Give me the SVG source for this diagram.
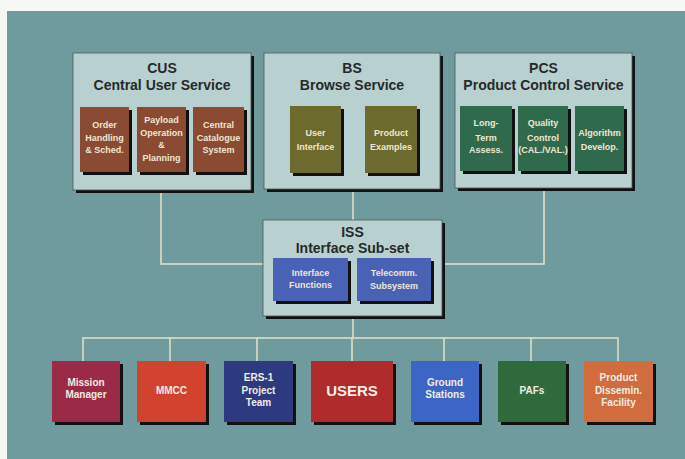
<svg xmlns="http://www.w3.org/2000/svg" width="685" height="459" viewBox="0 0 685 459">
<defs>
<style>
.bg{fill:#709b9e}
.grp{fill:#b8d0cf;stroke:#4a5a5a;stroke-width:0.8}
.sh{fill:#111}
.ttl{font-family:"Liberation Sans",Arial,sans-serif;font-weight:bold;font-size:14px;fill:#262a2a;text-anchor:middle}
.lbl{font-family:"Liberation Sans",Arial,sans-serif;font-weight:bold;font-size:9px;fill:#efe6d4;text-anchor:middle}
.blbl{font-family:"Liberation Sans",Arial,sans-serif;font-weight:bold;font-size:10px;fill:#f2ece2;text-anchor:middle}
.big{font-family:"Liberation Sans",Arial,sans-serif;font-weight:bold;font-size:15px;fill:#f4eee6;text-anchor:middle}
.con{fill:none;stroke:#e6e2c8;stroke-width:1.5}
.brown{fill:#8b4a32}
.olive{fill:#6c6a2c}
.green{fill:#2f6a4c}
.blue{fill:#4a62b6}
</style>
</defs>
<rect width="685" height="459" fill="#f5f7f2"/>
<rect class="bg" x="7" y="11" width="678" height="448"/>

<g id="connectors">
<path class="con" d="M161,192 V264 H263"/>
<path class="con" d="M544,190 V264 H442"/>
<path class="con" d="M353,191 V220"/>
<path class="con" d="M353,318 V338"/>
<path class="con" d="M83,361 V338 H618 V361"/>
<path class="con" d="M170,338 V361 M257,338 V361 M352,338 V361 M444,338 V361 M531,338 V361"/>
</g>

<g id="cus">
<rect class="sh" x="76" y="56" width="178" height="137"/>
<rect class="grp" x="73" y="53" width="178" height="137"/>
<text class="ttl" x="162" y="73">CUS</text>
<text class="ttl" x="162" y="90">Central User Service</text>
<g id="cus-order">
<rect class="sh" x="83" y="110" width="49" height="65"/>
<rect class="brown" x="80" y="107" width="49" height="65"/>
<text class="lbl" x="104.5" y="128">Order</text>
<text class="lbl" x="104.5" y="141">Handling</text>
<text class="lbl" x="104.5" y="153">&amp; Sched.</text>
</g>
<g id="cus-payload">
<rect class="sh" x="140" y="110" width="49" height="65"/>
<rect class="brown" x="137" y="107" width="49" height="65"/>
<text class="lbl" x="161.5" y="123">Payload</text>
<text class="lbl" x="161.5" y="136">Operation</text>
<text class="lbl" x="161.5" y="148">&amp;</text>
<text class="lbl" x="161.5" y="161">Planning</text>
</g>
<g id="cus-catalogue">
<rect class="sh" x="196" y="110" width="51" height="65"/>
<rect class="brown" x="193" y="107" width="51" height="65"/>
<text class="lbl" x="218.5" y="128">Central</text>
<text class="lbl" x="218.5" y="141">Catalogue</text>
<text class="lbl" x="218.5" y="153">System</text>
</g>
</g>

<g id="bs">
<rect class="sh" x="267" y="56" width="176" height="136"/>
<rect class="grp" x="264" y="53" width="176" height="136"/>
<text class="ttl" x="352" y="73">BS</text>
<text class="ttl" x="352" y="90">Browse Service</text>
<g id="bs-ui">
<rect class="sh" x="293" y="109" width="51" height="67"/>
<rect class="olive" x="290" y="106" width="51" height="67"/>
<text class="lbl" x="315.5" y="136">User</text>
<text class="lbl" x="315.5" y="150">Interface</text>
</g>
<g id="bs-examples">
<rect class="sh" x="368" y="109" width="52" height="67"/>
<rect class="olive" x="365" y="106" width="52" height="67"/>
<text class="lbl" x="391" y="136">Product</text>
<text class="lbl" x="391" y="150">Examples</text>
</g>
</g>

<g id="pcs">
<rect class="sh" x="458" y="56" width="177" height="135"/>
<rect class="grp" x="455" y="53" width="177" height="135"/>
<text class="ttl" x="543.5" y="73">PCS</text>
<text class="ttl" x="543.5" y="90">Product Control Service</text>
<g id="pcs-lta">
<rect class="sh" x="463" y="109" width="52" height="65"/>
<rect class="green" x="460" y="106" width="52" height="65"/>
<text class="lbl" x="486" y="126">Long-</text>
<text class="lbl" x="486" y="141">Term</text>
<text class="lbl" x="486" y="153">Assess.</text>
</g>
<g id="pcs-qc">
<rect class="sh" x="521" y="109" width="50" height="65"/>
<rect class="green" x="518" y="106" width="50" height="65"/>
<text class="lbl" x="543" y="126">Quality</text>
<text class="lbl" x="543" y="141">Control</text>
<text class="lbl" x="543" y="153">(CAL./VAL.)</text>
</g>
<g id="pcs-algo">
<rect class="sh" x="578" y="109" width="49" height="65"/>
<rect class="green" x="575" y="106" width="49" height="65"/>
<text class="lbl" x="599.5" y="136">Algorithm</text>
<text class="lbl" x="599.5" y="150">Develop.</text>
</g>
</g>

<g id="iss">
<rect class="sh" x="266" y="223" width="179" height="96"/>
<rect class="grp" x="263" y="220" width="179" height="96"/>
<text class="ttl" x="352.5" y="237">ISS</text>
<text class="ttl" x="352.5" y="253">Interface Sub-set</text>
<g id="iss-if">
<rect class="sh" x="276" y="261" width="75" height="43"/>
<rect class="blue" x="273" y="258" width="75" height="43"/>
<text class="lbl" x="310.5" y="276">Interface</text>
<text class="lbl" x="310.5" y="288">Functions</text>
</g>
<g id="iss-tc">
<rect class="sh" x="360" y="261" width="74" height="43"/>
<rect class="blue" x="357" y="258" width="74" height="43"/>
<text class="lbl" x="394" y="276">Telecomm.</text>
<text class="lbl" x="394" y="289">Subsystem</text>
</g>
</g>

<g id="mission-manager">
<rect class="sh" x="55" y="364" width="68" height="61"/>
<rect fill="#9a2a48" x="52" y="361" width="68" height="61"/>
<text class="blbl" x="86" y="386">Mission</text>
<text class="blbl" x="86" y="398">Manager</text>
</g>
<g id="mmcc">
<rect class="sh" x="140" y="364" width="69" height="61"/>
<rect fill="#d2432f" x="137" y="361" width="69" height="61"/>
<text class="blbl" x="171.5" y="394">MMCC</text>
</g>
<g id="ers1">
<rect class="sh" x="227" y="364" width="69" height="61"/>
<rect fill="#2d3a80" x="224" y="361" width="69" height="61"/>
<text class="blbl" x="258.5" y="381">ERS-1</text>
<text class="blbl" x="258.5" y="394">Project</text>
<text class="blbl" x="258.5" y="406">Team</text>
</g>
<g id="users">
<rect class="sh" x="314" y="364" width="82" height="61"/>
<rect fill="#b02b2c" x="311" y="361" width="82" height="61"/>
<text class="big" x="352" y="396">USERS</text>
</g>
<g id="ground-stations">
<rect class="sh" x="414" y="364" width="68" height="61"/>
<rect fill="#3b66c6" x="411" y="361" width="68" height="61"/>
<text class="blbl" x="445" y="386">Ground</text>
<text class="blbl" x="445" y="398">Stations</text>
</g>
<g id="pafs">
<rect class="sh" x="501" y="364" width="68" height="61"/>
<rect fill="#2f6a3c" x="498" y="361" width="68" height="61"/>
<text class="blbl" x="532" y="394">PAFs</text>
</g>
<g id="product-dissemin">
<rect class="sh" x="587" y="364" width="69" height="61"/>
<rect fill="#d06c3e" x="584" y="361" width="69" height="61"/>
<text class="blbl" x="618.5" y="381">Product</text>
<text class="blbl" x="618.5" y="394">Dissemin.</text>
<text class="blbl" x="618.5" y="406">Facility</text>
</g>
</svg>
